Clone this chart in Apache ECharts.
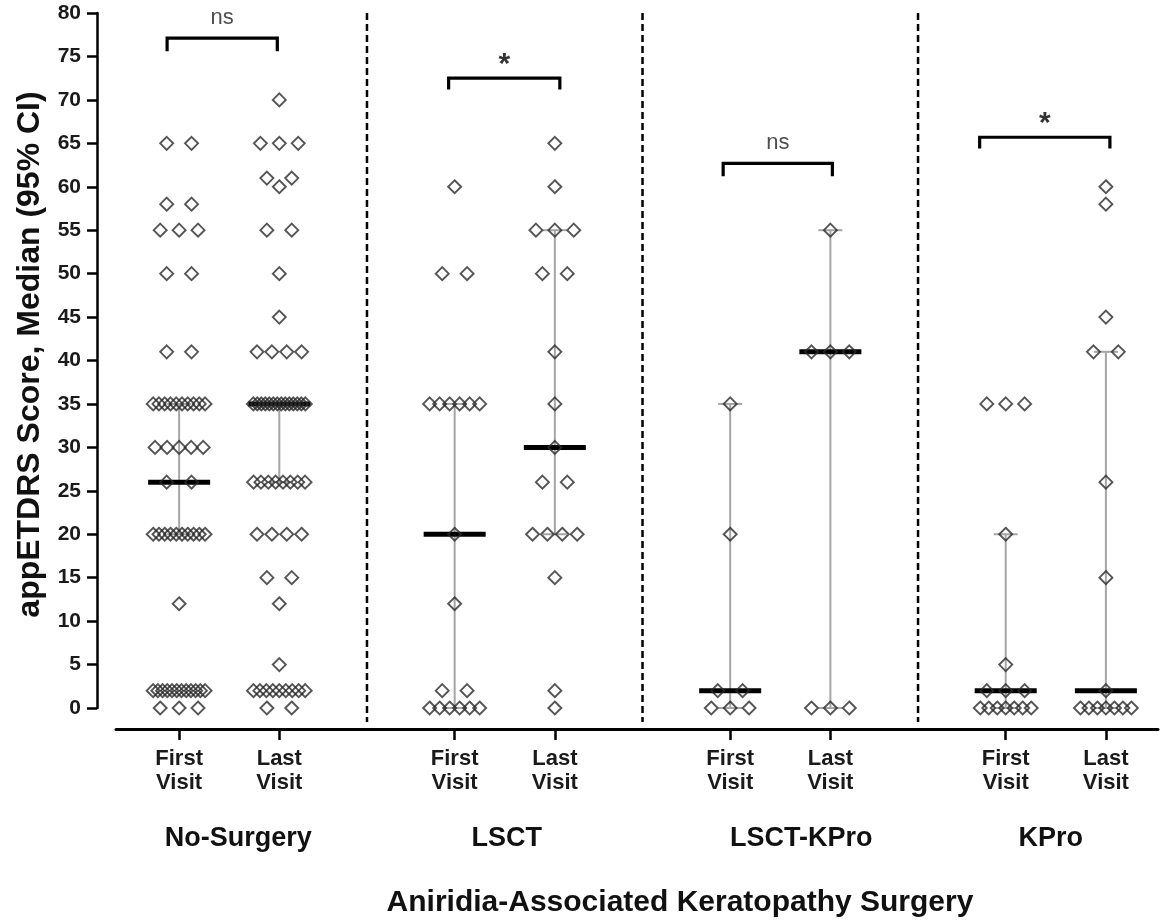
<!DOCTYPE html>
<html><head><meta charset="utf-8">
<script src="https://cdn.jsdelivr.net/npm/echarts@6/dist/echarts.min.js"></script>
<style>html,body{margin:0;padding:0;background:#fff}#c{width:1167px;height:921px}</style>
</head><body><div id="c"></div>
<script>
// ---- categories ----
const groupNames = ['No-Surgery', 'LSCT', 'LSCT-KPro', 'KPro'];
const visitLabels = ['First\nVisit', 'Last\nVisit'];
const columnPos = [0, 1, 2.75, 3.75, 5.5, 6.5, 8.25, 9.25];
const groupLabelPos = [0.59, 3.27, 6.21, 8.70];
const yTicks = { min: 0, max: 80, interval: 5 };

// ---- individual scores: [value, number of eyes] ----
const noSurgeryFirst = [[65,2],[58,2],[55,3],[50,2],[41,2],[35,10],[30,5],[26,2],[20,10],[12,1],[2,12],[0,3]];
const noSurgeryLast  = [[70,1],[65,3],[61,2],[60,1],[55,2],[50,1],[45,1],[41,4],[35,14],[26,8],[20,4],[15,2],[12,1],[5,1],[2,9],[0,2]];
const lsctFirst      = [[60,1],[50,2],[35,6],[20,1],[12,1],[2,2],[0,6]];
const lsctLast       = [[65,1],[60,1],[55,3],[50,2],[41,1],[35,1],[30,1],[26,2],[20,4],[15,1],[2,1],[0,1]];
const lsctKproFirst  = [[35,1],[20,1],[2,2],[0,3]];
const lsctKproLast   = [[55,1],[41,3],[0,3]];
const kproFirst      = [[35,3],[20,1],[5,1],[2,3],[0,7]];
const kproLast       = [[60,1],[58,1],[45,1],[41,2],[26,1],[15,1],[2,1],[0,7]];
const columns = [noSurgeryFirst, noSurgeryLast, lsctFirst, lsctLast, lsctKproFirst, lsctKproLast, kproFirst, kproLast];

// ---- medians and 95% CI ----
const medians = [26, 35, 20, 30, 2, 41, 2, 2];
const ciLow   = [20, 26, 0, 20, 0, 0, 0, 0];
const ciHigh  = [35, 35, 35, 55, 35, 55, 20, 41];

// ---- significance brackets ----
const bracketLeft  = [-0.12, 2.69, 5.43, 7.99];
const bracketRight = [0.98, 3.80, 6.52, 9.29];
const bracketTop   = [77.1, 72.5, 62.7, 65.7];
const bracketDrop  = [75.6, 71.2, 61.2, 64.4];
const bracketText  = ['ns', '*', 'ns', '*'];

// ---- layout constants ----
const GRID = { left: 116, right: 9, top: 13, bottom: 213 };
const X_MIN = -0.63, X_MAX = 9.77;
const CHART_W = 1167;
const PX_PER_UNIT = (CHART_W - GRID.left - GRID.right) / (X_MAX - X_MIN);
const FONT = '"Liberation Sans", Arial, Helvetica, sans-serif';

function spreadOffsets(n) {
  if (n < 2) return [0];
  const w = 52 * (1 - Math.exp(-0.65 * (n - 1)));
  const s = w / (n - 1);
  const out = [];
  for (let k = 0; k < n; k++) out.push((k - (n - 1) / 2) * s / PX_PER_UNIT);
  return out;
}

const points = [];
columns.forEach((col, i) => {
  col.forEach(([v, n]) => {
    spreadOffsets(n).forEach(o => points.push([columnPos[i] + o, v]));
  });
});

function near(a, b) { return Math.abs(a - b) < 1e-6; }
function visitLabel(v) {
  const i = columnPos.findIndex(p => near(p, v));
  return i < 0 ? '' : visitLabels[i % 2];
}
function groupLabel(v) {
  const i = groupLabelPos.findIndex(p => near(p, v));
  return i < 0 ? '' : groupNames[i];
}

const separators = [];
for (let g = 0; g < groupNames.length - 1; g++) {
  separators.push((columnPos[2 * g + 1] + columnPos[2 * g + 2]) / 2);
}

const series = [];
separators.forEach(x => series.push({
  type: 'line', data: [[x, 80], [x, -1.6]], symbol: 'none', clip: false, silent: true,
  lineStyle: { color: '#000', width: 2.5, type: [7, 4] }, z: 1
}));

series.push({
  type: 'custom', z: 2, clip: false,
  data: columnPos.map((x, i) => [x, ciLow[i], ciHigh[i], medians[i]]),
  encode: { x: 0, y: [1, 2, 3] },
  renderItem(params, api) {
    const x = api.value(0);
    const lo = api.coord([x, api.value(1)]);
    const hi = api.coord([x, api.value(2)]);
    const md = api.coord([x, api.value(3)]);
    const grey = { stroke: '#a5a5a5', lineWidth: 2 };
    return { type: 'group', children: [
      { type: 'line', shape: { x1: lo[0], y1: lo[1], x2: hi[0], y2: hi[1] }, style: grey },
      { type: 'line', shape: { x1: lo[0] - 12, y1: lo[1], x2: lo[0] + 12, y2: lo[1] }, style: grey },
      { type: 'line', shape: { x1: hi[0] - 12, y1: hi[1], x2: hi[0] + 12, y2: hi[1] }, style: grey },
      { type: 'line', shape: { x1: md[0] - 31, y1: md[1], x2: md[0] + 31, y2: md[1] }, style: { stroke: '#000', lineWidth: 5 } }
    ]};
  }
});

series.push({
  type: 'scatter', data: points, symbol: 'diamond', symbolSize: [13, 13], clip: false, z: 3,
  itemStyle: { color: 'rgba(255,255,255,0)', borderColor: '#2b2b2b', borderWidth: 1.9 }
});

bracketText.forEach((t, i) => {
  series.push({
    type: 'line', symbol: 'none', clip: false, z: 4,
    data: [[bracketLeft[i], bracketDrop[i]], [bracketLeft[i], bracketTop[i]], [bracketRight[i], bracketTop[i]], [bracketRight[i], bracketDrop[i]]],
    lineStyle: { color: '#000', width: 3.2, join: 'miter', cap: 'butt' }
  });
});
series.push({
  type: 'scatter', symbolSize: 0, clip: false, z: 5, silent: true,
  data: bracketText.map((t, i) => ({
    value: [(bracketLeft[i] + bracketRight[i]) / 2, bracketTop[i]],
    label: t === '*'
      ? { show: true, formatter: t, position: 'inside', offset: [0, -13], fontSize: 30, fontWeight: 'bold', color: '#000', fontFamily: FONT }
      : { show: true, formatter: t, position: 'inside', offset: [0, -20], fontSize: 22, color: '#222', fontFamily: FONT }
  }))
});

const chart = echarts.init(document.getElementById('c'), null, { renderer: 'canvas' });
chart.setOption({
  animation: false,
  backgroundColor: '#fff',
  grid: { left: GRID.left, right: GRID.right, top: GRID.top, bottom: GRID.bottom, containLabel: false, outerBoundsMode: 'none' },
  xAxis: [{
    type: 'value', min: X_MIN, max: X_MAX, position: 'bottom', offset: 21,
    axisLine: { show: true, onZero: false, lineStyle: { color: '#000', width: 3 } },
    axisTick: { show: true, customValues: columnPos, length: 11, lineStyle: { color: '#000', width: 2.5 } },
    axisLabel: { customValues: columnPos, formatter: visitLabel, fontSize: 22, fontWeight: 'bold', color: '#1a1a1a', lineHeight: 24, margin: 18, fontFamily: FONT },
    splitLine: { show: false }
  }, {
    type: 'value', min: X_MIN, max: X_MAX, position: 'bottom', offset: 21,
    axisLine: { show: false, onZero: false }, axisTick: { show: false },
    axisLabel: { customValues: groupLabelPos, formatter: groupLabel, fontSize: 27, fontWeight: 'bold', color: '#111', lineHeight: 30, margin: 95, fontFamily: FONT },
    splitLine: { show: false }
  }],
  yAxis: {
    type: 'value', min: yTicks.min, max: yTicks.max, interval: yTicks.interval, offset: 19, position: 'left',
    axisLine: { show: true, onZero: false, lineStyle: { color: '#000', width: 2.5 } },
    axisTick: { show: true, length: 10, lineStyle: { color: '#000', width: 2.5 } },
    axisLabel: { fontSize: 21, fontWeight: 'bold', color: '#1a1a1a', margin: 16, fontFamily: FONT },
    splitLine: { show: false },
    name: 'appETDRS Score, Median (95% CI)', nameLocation: 'middle', nameRotate: 90, nameGap: 51, nameMoveOverlap: false,
    nameTextStyle: { fontSize: 32, fontWeight: 'bold', color: '#111', fontFamily: FONT, padding: [0, 0, 0, 12] }
  },
  graphic: [{
    type: 'text', x: 680, y: 903, silent: true,
    style: { text: 'Aniridia-Associated Keratopathy Surgery', fontSize: 30, fontWeight: 'bold', fontFamily: FONT, fill: '#111', align: 'center', verticalAlign: 'middle' }
  }],
  series: series
});
</script>
</body></html>
